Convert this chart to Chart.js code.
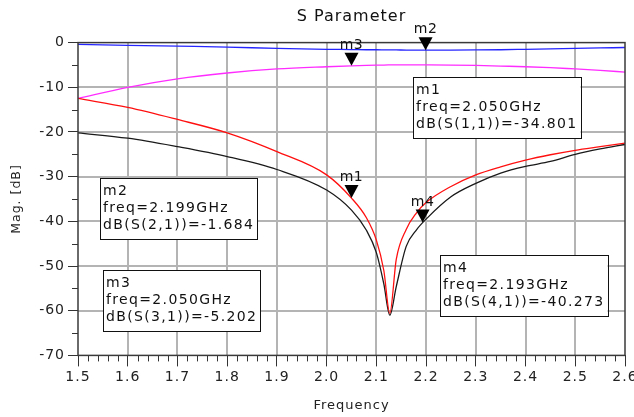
<!DOCTYPE html>
<html>
<head>
<meta charset="utf-8">
<script src="https://cdn.jsdelivr.net/npm/chart.js@4.4.1/dist/chart.umd.min.js"></script>
<style>
  html, body { margin: 0; padding: 0; background: #fff; }
</style>
</head>
<body>
<canvas id="sparam" width="634" height="417"></canvas>
<script>
// frequency points, GHz
const freq = [1.5, 1.6, 1.7, 1.8, 1.9, 2.0, 2.05, 2.08, 2.1, 2.115, 2.127, 2.14, 2.16, 2.18, 2.2, 2.25, 2.3, 2.35, 2.4, 2.45, 2.5, 2.55, 2.6];
// traces, dB
const s11 = [-12.5, -14.5, -17.2, -20.2, -24.4, -29.6, -34.8, -39.2, -44.2, -51.0, -60.6, -48.5, -41.8, -38.2, -35.8, -32.2, -29.6, -27.8, -26.3, -25.1, -24.1, -23.3, -22.5];
const s21 = [-0.4, -0.6, -0.8, -1.0, -1.3, -1.5, -1.55, -1.6, -1.6, -1.62, -1.64, -1.65, -1.67, -1.68, -1.684, -1.68, -1.65, -1.6, -1.5, -1.4, -1.3, -1.2, -1.1];
const s31 = [-12.5, -10.0, -8.1, -6.8, -5.9, -5.4, -5.2, -5.1, -5.05, -5.02, -5.0, -4.98, -4.97, -4.97, -4.98, -5.02, -5.1, -5.25, -5.4, -5.6, -5.9, -6.2, -6.6];
const s41 = [-20.2, -21.4, -23.3, -25.5, -28.4, -33.0, -37.5, -42.0, -47.0, -54.0, -61.0, -54.6, -45.6, -42.0, -39.5, -34.5, -31.5, -29.2, -27.7, -26.6, -25.0, -23.8, -22.8];

// markers
const markerNames = ['m1', 'm2', 'm3', 'm4'];
const markerFreq = [2.050, 2.199, 2.050, 2.193];
const markerVal = [-34.801, -1.684, -5.202, -40.273];
const markerTrace = ['dB(S(1,1))', 'dB(S(2,1))', 'dB(S(3,1))', 'dB(S(4,1))'];

const FONT = '"DejaVu Sans", "Liberation Sans", sans-serif';
Chart.defaults.font.family = FONT;

const toPts = vals => freq.map((f, i) => ({ x: f, y: vals[i] }));

// readout boxes, top-left corner in canvas px
const readoutPos = [
  { x: 413, y: 77 },
  { x: 100, y: 178 },
  { x: 103, y: 270 },
  { x: 440, y: 255 }
];

const adsPlugin = {
  id: 'adsMarkers',
  beforeUpdate(chart) { chart.ctx.letterSpacing = '1px'; },
  beforeDraw(chart) { chart.ctx.letterSpacing = '1px'; },
  beforeDatasetsDraw(chart) {
    // grid at major ticks, drawn as thin filled bars
    const { ctx, chartArea: a, scales: { x, y } } = chart;
    ctx.save();
    ctx.globalAlpha = 1;
    ctx.globalCompositeOperation = 'source-over';
    ctx.fillStyle = '#b4b4b4';
    for (let k = 1; k < 11; k++) {
      const px = Math.round(x.getPixelForValue(1.5 + k * 0.1));
      ctx.fillRect(px - 1, a.top, 2, a.bottom - a.top);
    }
    for (let v = -10; v > -70; v -= 10) {
      const py = Math.round(y.getPixelForValue(v));
      ctx.fillRect(a.left, py - 1, a.right - a.left, 2);
    }
    ctx.restore();
  },
  afterDatasetsDraw(chart) {
    const { ctx, chartArea: a, scales: { x, y } } = chart;
    ctx.save();

    // minor ticks
    ctx.strokeStyle = '#333';
    ctx.lineWidth = 1;
    ctx.beginPath();
    for (let k = 1; k < 55; k++) {
      if (k % 5 === 0) continue;
      const px = Math.round(x.getPixelForValue(1.5 + k * 0.02)) + 0.5;
      ctx.moveTo(px, a.bottom);
      ctx.lineTo(px, a.bottom + 6);
    }
    for (let v = -5; v > -70; v -= 10) {
      const py = Math.round(y.getPixelForValue(v)) + 0.5;
      ctx.moveTo(a.left - 6, py);
      ctx.lineTo(a.left, py);
    }
    ctx.stroke();

    // frame
    ctx.strokeStyle = '#3a3a3a';
    ctx.lineWidth = 1.5;
    ctx.strokeRect(a.left, a.top, a.right - a.left, a.bottom - a.top);

    // marker triangles + names
    markerNames.forEach((name, i) => {
      const px = x.getPixelForValue(markerFreq[i]);
      const py = y.getPixelForValue(markerVal[i]);
      ctx.fillStyle = '#000';
      ctx.beginPath();
      ctx.moveTo(px, py);
      ctx.lineTo(px - 7, py - 13);
      ctx.lineTo(px + 7, py - 13);
      ctx.closePath();
      ctx.fill();
      ctx.font = '14px ' + FONT;
      ctx.letterSpacing = '0.5px';
      ctx.textAlign = 'center';
      ctx.textBaseline = 'alphabetic';
      ctx.fillStyle = '#111';
      ctx.fillText(name, px, py - 17);
    });

    // readouts
    ctx.font = '14px ' + FONT;
    ctx.letterSpacing = '1.35px';
    ctx.textAlign = 'left';
    markerNames.forEach((name, i) => {
      const lines = [
        name,
        'freq=' + markerFreq[i].toFixed(3) + 'GHz',
        markerTrace[i] + '=' + markerVal[i].toFixed(3)
      ];
      const w = Math.max(...lines.map(t => ctx.measureText(t).width)) + 6;
      const p = readoutPos[i];
      ctx.fillStyle = '#fff';
      ctx.fillRect(p.x, p.y, w, 61);
      ctx.strokeStyle = '#111';
      ctx.lineWidth = 1;
      ctx.strokeRect(Math.round(p.x) + 0.5, Math.round(p.y) + 0.5, Math.round(w), 61);
      ctx.fillStyle = '#111';
      lines.forEach((t, j) => ctx.fillText(t, p.x + 3, p.y + 16.5 + j * 17.2));
    });

    ctx.restore();
  }
};

const ctx = document.getElementById('sparam');

new Chart(ctx, {
  type: 'line',
  data: {
    datasets: [
      { label: 'dB(S(1,1))', data: toPts(s11), borderColor: '#ff1010', borderWidth: 1.3 },
      { label: 'dB(S(2,1))', data: toPts(s21), borderColor: '#2424ff', borderWidth: 1.3 },
      { label: 'dB(S(3,1))', data: toPts(s31), borderColor: '#ff2cff', borderWidth: 1.3 },
      { label: 'dB(S(4,1))', data: toPts(s41), borderColor: '#1a1a1a', borderWidth: 1.3 }
    ]
  },
  options: {
    responsive: false,
    animation: false,
    cubicInterpolationMode: 'monotone',
    pointRadius: 0,
    layout: { padding: { top: 0, right: 9, bottom: 0, left: 0 } },
    plugins: {
      legend: { display: false },
      tooltip: { enabled: false },
      title: {
        display: true,
        text: 'S Parameter',
        fullSize: false,
        color: '#111',
        font: { size: 16, weight: 'normal' },
        padding: { top: 7, bottom: 16.4 }
      }
    },
    scales: {
      x: {
        type: 'linear',
        min: 1.5,
        max: 2.6,
        afterFit: s => { s.height = 61.6; s.paddingLeft = 0; s.paddingRight = 0; },
        border: { display: false },
        grid: { drawOnChartArea: false, tickColor: '#333', tickLength: 11, tickWidth: 1 },
        ticks: {
          stepSize: 0.1,
          autoSkip: false,
          maxRotation: 0,
          padding: 3,
          color: '#222',
          font: { size: 14 },
          callback: v => v.toFixed(1)
        },
        title: {
          display: true,
          text: 'Frequency',
          color: '#222',
          font: { size: 13 },
          padding: { top: 0, bottom: 4 }
        }
      },
      y: {
        min: -70,
        max: 0,
        afterFit: s => { s.width = 78; s.paddingTop = 0; s.paddingBottom = 0; },
        border: { display: false },
        grid: { drawOnChartArea: false, tickColor: '#333', tickLength: 10, tickWidth: 1 },
        ticks: {
          stepSize: 10,
          padding: 3,
          color: '#222',
          font: { size: 14 },
          callback: v => String(v)
        },
        title: {
          display: true,
          text: 'Mag. [dB]',
          color: '#222',
          font: { size: 12.5 },
          padding: { top: 9, bottom: 0 }
        }
      }
    }
  },
  plugins: [adsPlugin]
});
</script>
</body>
</html>
